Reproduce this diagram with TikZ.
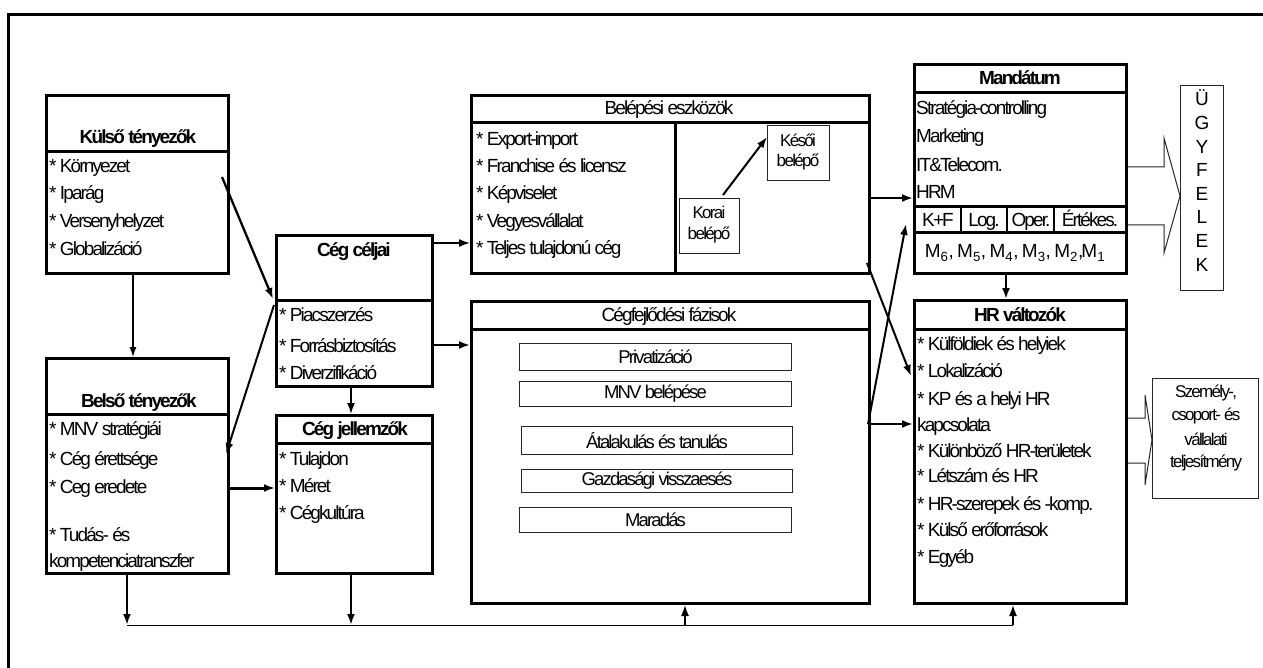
\documentclass[tikz,border=0pt]{standalone}
\usepackage{fontspec}
\setmainfont{Liberation Sans}[LetterSpace=-10]
\usetikzlibrary{arrows.meta}
\begin{document}
\begin{tikzpicture}[x=1pt,y=-1pt,
  tbox/.style={draw, line width=3pt, inner sep=0pt, anchor=north west},
  fbox/.style={draw=black!85, line width=1pt, inner sep=0pt, anchor=north west, font=\fontsize{18.5}{22}\selectfont},
  itm/.style={anchor=base west, inner sep=0pt, font=\fontsize{19}{22}\selectfont},
  ctr/.style={anchor=base, inner sep=0pt, font=\fontsize{19}{22}\selectfont},
  ttl/.style={anchor=base, inner sep=0pt, font=\fontsize{19}{22}\selectfont\bfseries},
  sml/.style={anchor=base, inner sep=0pt, font=\fontsize{17}{20}\selectfont},
  arr/.style={-{Latex[length=11pt,width=8pt]}, line width=2pt},
  thinarr/.style={-{Latex[length=10pt,width=7pt]}, line width=1.3pt},
  hollow/.style={draw=black!85, line width=1pt},
  divl/.style={line width=3pt}
]
\useasboundingbox (0,0) rectangle (1263,668);
% outer frame
\coordinate (fr1) at (1263,15);
\coordinate (fr2) at (8,15);
\coordinate (fr3) at (8,668);
\draw[line width=3pt] (fr1) -- (fr2) -- (fr3);

% ---------- boxes ----------
\node[tbox, minimum width=182pt, minimum height=178pt] (kulso) at (45,94) {};
\draw[divl] (kulso.west |- 0,152) -- (kulso.east |- 0,152);
\node[tbox, minimum width=182pt, minimum height=215pt] (belso) at (45,357) {};
\draw[divl] (belso.west |- 0,414) -- (belso.east |- 0,414);
\node[tbox, minimum width=156pt, minimum height=151pt] (celjai) at (275,234) {};
\draw[divl] (celjai.west |- 0,300) -- (celjai.east |- 0,300);
\node[tbox, minimum width=156pt, minimum height=158pt] (jell) at (275,414) {};
\draw[divl] (jell.west |- 0,443) -- (jell.east |- 0,443);
\node[tbox, minimum width=398pt, minimum height=178pt] (belep) at (470,94) {};
\draw[divl] (belep.west |- 0,123) -- (belep.east |- 0,123);
\draw[divl] (675,123) -- (belep.south -| 675,0);
\node[tbox, minimum width=398pt, minimum height=302pt] (fejl) at (470,300) {};
\draw[divl] (fejl.west |- 0,329) -- (fejl.east |- 0,329);
\node[tbox, minimum width=212pt, minimum height=209pt] (mand) at (913,63) {};
\draw[divl] (mand.west |- 0,93) -- (mand.east |- 0,93);
\draw[divl] (mand.west |- 0,207) -- (mand.east |- 0,207);
\draw[divl] (mand.west |- 0,233) -- (mand.east |- 0,233);
\foreach \cx in {961,1007,1054} \draw[line width=2pt] (\cx,207) -- (\cx,233);
\node[tbox, minimum width=212pt, minimum height=303pt] (hr) at (913,299) {};
\draw[divl] (hr.west |- 0,329) -- (hr.east |- 0,329);

\node[fbox, minimum width=43pt, minimum height=205pt] (ugyf) at (1180,85) {};
\node[fbox, minimum width=106pt, minimum height=120pt] (szem) at (1152,378) {};
\node[fbox, minimum width=60pt, minimum height=55pt] (korai) at (679,198) {};
\node[fbox, minimum width=62pt, minimum height=55pt] (kesoi) at (767,125) {};

\node[fbox, minimum width=272pt, minimum height=27pt] (ph1) at (519,343) {Privatizáció};
\node[fbox, minimum width=272pt, minimum height=25pt] (ph2) at (519,381) {MNV belépése};
\node[fbox, minimum width=271pt, minimum height=28pt] (ph3) at (521,426) {Átalakulás és tanulás};
\node[fbox, minimum width=271pt, minimum height=23pt] (ph4) at (521,469) {Gazdasági visszaesés};
\node[fbox, minimum width=272pt, minimum height=25pt] (ph5) at (519,507) {Maradás};

% ---------- texts ----------
\node[ttl] (tk) at (138,144) {Külső tényezők};
\node[itm] (k1) at (49,173) {* Környezet};
\node[itm] (k2) at (49,200) {* Iparág};
\node[itm] (k3) at (49,228) {* Versenyhelyzet};
\node[itm] (k4) at (49,256) {* Globalizáció};

\node[ttl] (tb) at (139,407) {Belső tényezők};
\node[itm] (b1) at (49,435) {* MNV stratégiái};
\node[itm] (b2) at (49,465) {* Cég érettsége};
\node[itm] (b3) at (49,493) {* Ceg eredete};
\node[itm] (b4) at (49,541) {* Tudás- és};
\node[itm] (b5) at (49,567) {kompetenciatranszfer};

\node[ttl] (tc) at (354,257) {Cég céljai};
\node[itm] (c1) at (279,321) {* Piacszerzés};
\node[itm] (c2) at (279,352) {* Forrásbiztosítás};
\node[itm] (c3) at (279,379) {* Diverzifikáció};

\node[ttl] (tj) at (355,435) {Cég jellemzők};
\node[itm] (j1) at (279,465) {* Tulajdon};
\node[itm] (j2) at (279,492) {* Méret};
\node[itm] (j3) at (279,519) {* Cégkultúra};

\node[ctr] (te) at (669,115) {Belépési eszközök};
\node[itm] (e1) at (476,146) {* Export-import};
\node[itm] (e2) at (476,173) {* Franchise és licensz};
\node[itm] (e3) at (476,200) {* Képviselet};
\node[itm] (e4) at (476,228) {* Vegyesvállalat};
\node[itm] (e5) at (476,255) {* Teljes tulajdonú cég};

\node[sml] (ko1) at (709,219) {Korai};
\node[sml] (ko2) at (709,240) {belépő};
\node[sml] (ke1) at (798,147) {Késői};
\node[sml] (ke2) at (798,167) {belépő};

\node[ctr] (tf) at (669,321) {Cégfejlődési fázisok};

\node[ttl] (tm) at (1020,85) {Mandátum};
\node[itm] (m1) at (916,115) {Stratégia-controlling};
\node[itm] (m2) at (916,143) {Marketing};
\node[itm] (m3) at (916,172) {IT\&Telecom.};
\node[itm] (m4) at (916,199) {HRM};
\node[ctr] (mc1) at (938,227) {K+F};
\node[ctr] (mc2) at (984,227) {Log.};
\node[ctr] (mc3) at (1031,227) {Oper.};
\node[ctr] (mc4) at (1090,227) {Értékes.};
\node[ctr] (mm) at (1015,258) {M\textsubscript{6}, M\textsubscript{5}, M\textsubscript{4}, M\textsubscript{3}, M\textsubscript{2},M\textsubscript{1}};

\node[ttl] (th) at (1020,321) {HR változók};
\node[itm] (h1) at (917,350) {* Külföldiek és helyiek};
\node[itm] (h2) at (917,377) {* Lokalizáció};
\node[itm] (h3) at (917,405) {* KP és a helyi HR};
\node[itm] (h4) at (917,431) {kapcsolata};
\node[itm] (h5) at (917,457) {* Különböző HR-területek};
\node[itm] (h6) at (917,482) {* Létszám és HR};
\node[itm] (h7) at (917,510) {* HR-szerepek és -komp.};
\node[itm] (h8) at (917,536) {* Külső erőforrások};
\node[itm] (h9) at (917,563) {* Egyéb};

\foreach \l [count=\i from 0] in {Ü,G,Y,F,E,L,E,K}
  \node[ctr] (u\i) at (1202,{106+23.6*\i}) {\l};

\node[sml] (s1) at (1206,397) {Személy-,};
\node[sml] (s2) at (1206,420) {csoport- és};
\node[sml] (s3) at (1206,445) {vállalati};
\node[sml] (s4) at (1206,467) {teljesítmény};

% ---------- hollow arrows ----------
\draw[hollow] (mand.east |- 0,167) -- (1164,167) -- (1164,138) -- (ugyf.west |- 0,196)
  -- (1164,253) -- (1164,225) -- (mand.east |- 0,225);
\draw[hollow] (hr.east |- 0,418) -- (1145,418) -- (1145,395) -- (szem.west |- 0,440)
  -- (1145,485) -- (1145,463) -- (hr.east |- 0,463);

% ---------- connectors ----------
\coordinate (p1s) at (222,177); \coordinate (p1e) at (273,299);
\draw[arr, line width=2.3pt] (p1s) -- (p1e);
\draw[thinarr] (kulso.south -| 133,0) -- (belso.north -| 133,0);
\coordinate (p3s) at (274,305); \coordinate (p3e) at (226,454);
\draw[arr] (p3s) -- (p3e);
\draw[arr, line width=3pt] (belso.east |- 0,488) -- (jell.west |- 0,488);
\draw[arr, line width=1.7pt] (celjai.south -| 351,0) -- (jell.north -| 351,0);
\draw[arr, line width=1.5pt] (celjai.east |- 0,243) -- (belep.west |- 0,243);
\draw[arr] (celjai.east |- 0,345) -- (fejl.west |- 0,345);
\draw[arr, line width=2.5pt] (belep.east |- 0,198) -- (mand.west |- 0,198);
\coordinate (x1s) at (867,263); \coordinate (x1e) at (911,376);
\draw[arr] (x1s) -- (x1e);
\coordinate (x2s) at (868,424); \coordinate (x2e) at (906,224);
\draw[arr] (x2s) -- (x2e);
\draw[arr] (fejl.east |- 0,424) -- (hr.west |- 0,424);
\draw[arr] (mand.south -| 1006,0) -- (hr.north -| 1006,0);
\coordinate (kk1) at (723,195); \coordinate (kk2) at (767,137);
\draw[arr] (kk1) -- (kk2);

% bottom feedback line
\coordinate (bl) at (127,625); \coordinate (bm1) at (351,625);
\coordinate (bm2) at (685,625); \coordinate (br) at (1013,625);
\draw[line width=1pt] (bl) -- (br);
\draw[arr, line width=2.5pt] (belso.south -| bl) -- (bl);
\draw[arr] (jell.south -| bm1) -- (bm1);
\draw[arr, line width=1.5pt] (bm2) -- (fejl.south -| bm2);
\draw[arr, line width=1.5pt] (br) -- (hr.south -| br);
\end{tikzpicture}
\end{document}
